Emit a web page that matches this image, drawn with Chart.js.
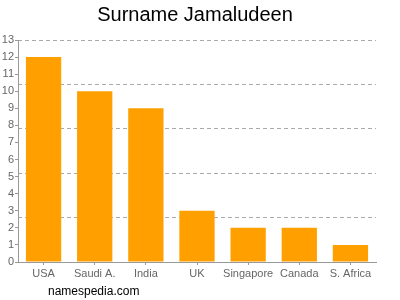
<!DOCTYPE html>
<html>
<head>
<meta charset="utf-8">
<script src="https://cdn.jsdelivr.net/npm/chart.js@4/dist/chart.umd.min.js"></script>
<style>
  html, body { margin: 0; padding: 0; background: #fff; }
  #wrap { width: 400px; height: 300px; }
</style>
</head>
<body>
<div id="wrap"><canvas id="c" width="400" height="300"></canvas></div>
<script>
const countries = ['USA', 'Saudi A.', 'India', 'UK', 'Singapore', 'Canada', 'S. Africa'];
const counts = [12, 10, 9, 3, 2, 2, 1];
const yMax = 13;
const gridValues = [2.6, 5.2, 7.8, 10.4, 13];

const fontFamily = '"Liberation Sans", Arial, sans-serif';

// site name under the chart
const footer = {
  id: 'footer',
  afterDraw(chart) {
    const { ctx } = chart;
    ctx.save();
    ctx.font = '12px ' + fontFamily;
    ctx.fillStyle = '#000';
    ctx.textBaseline = 'middle';
    ctx.fillText('namespedia.com', 48, 292);
    ctx.restore();
  },
};

new Chart(document.getElementById('c').getContext('2d'), {
  type: 'bar',
  plugins: [footer],
  data: {
    labels: countries,
    datasets: [{
      data: counts,
      backgroundColor: '#ffa000',
      borderWidth: 0,
      categoryPercentage: 0.69,
      barPercentage: 1,
    }],
  },
  options: {
    responsive: false,
    animation: false,
    layout: { padding: { left: 0, right: 10, top: 3, bottom: 0 } },
    plugins: {
      legend: { display: false },
      tooltip: { enabled: false },
      title: {
        display: true,
        text: 'Surname Jamaludeen',
        color: '#000',
        font: { family: fontFamily, size: 20, weight: 'normal' },
        padding: { top: 0, bottom: 13 },
      },
    },
    scales: {
      x: {
        afterFit(s) { s.height = 38; },
        grid: { drawOnChartArea: false, drawTicks: true, tickLength: 3, offset: false, color: '#999' },
        border: { color: '#999' },
        ticks: { color: '#666', font: { family: fontFamily, size: 11 }, padding: 2, maxRotation: 0, autoSkip: false },
      },
      y: {
        min: 0,
        max: yMax,
        afterFit(s) { s.width = 18; },
        ticks: { stepSize: 1, color: '#666', font: { family: fontFamily, size: 11 }, padding: 1 },
        grid: { drawOnChartArea: false, drawTicks: true, tickLength: 3, color: '#999' },
        border: { color: '#999' },
      },
      yGrid: {
        position: 'left',
        min: 0,
        max: yMax,
        afterBuildTicks(s) { s.ticks = gridValues.map(v => ({ value: v })); },
        afterFit(s) { s.width = 0; },
        ticks: { display: false },
        grid: { drawTicks: false, color: '#aaa', lineWidth: 1 },
        border: { display: false, dash: [4, 3] },
      },
      // empty right margin
      yRight: {
        position: 'right',
        min: 0,
        max: yMax,
        afterFit(s) { s.width = 14; },
        ticks: { display: false },
        grid: { display: false },
        border: { display: false },
      },
    },
  },
});
</script>
</body>
</html>
